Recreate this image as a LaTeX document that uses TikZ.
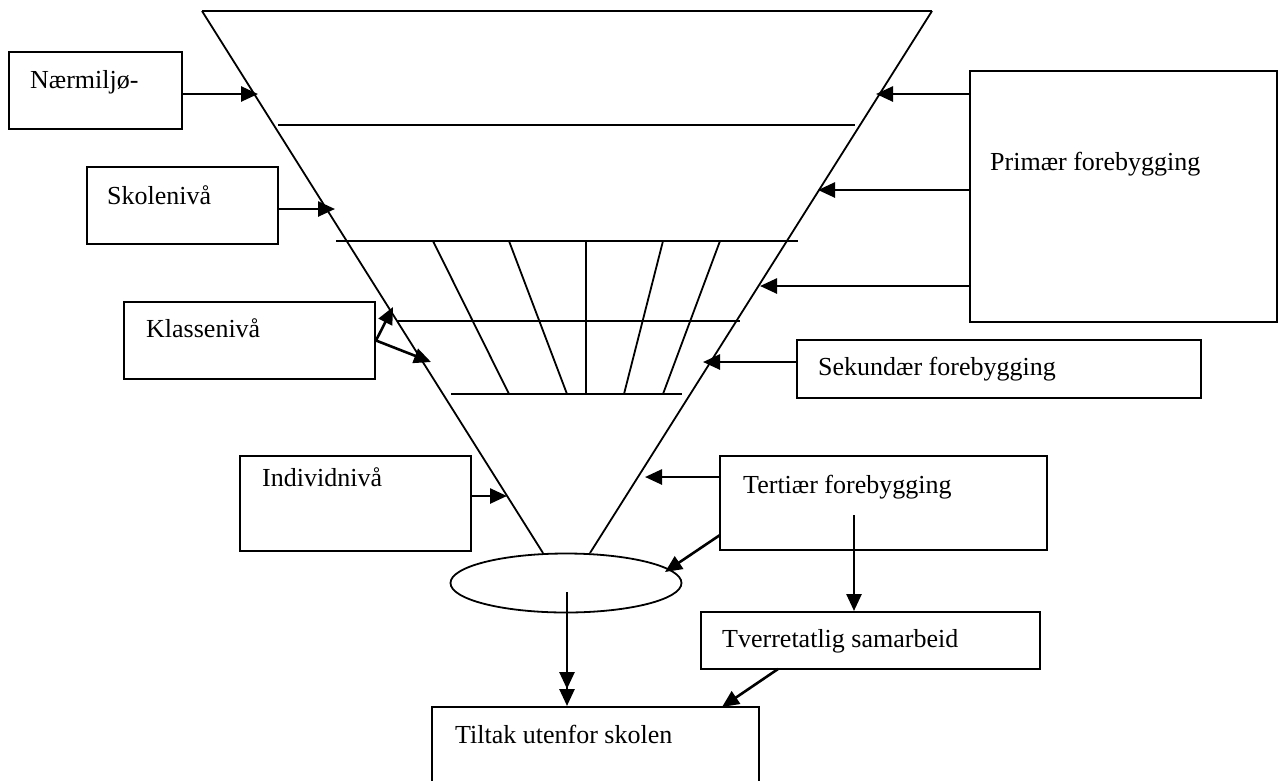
\documentclass[tikz,border=0pt]{standalone}
\usepackage{fontspec}
\setmainfont{Liberation Serif}
\usetikzlibrary{arrows.meta,shapes.geometric}
\begin{document}
\begin{tikzpicture}[x=1pt,y=-1pt,
  funnel/.style={line width=1.8pt},
  box/.style={draw,line width=2pt,rectangle,inner sep=0pt},
  txt/.style={anchor=base west,inner sep=0pt,font=\fontsize{26}{30}\selectfont},
  arr/.style={line width=2.6pt,-{Triangle[length=17pt,width=15pt]}},
  darr/.style={line width=2.6pt,-{Triangle[length=17pt,width=15pt]Triangle[length=17pt,width=15pt]}}]
\useasboundingbox (0,0) rectangle (1279,780);
% funnel
\coordinate (tl) at (202,11);
\coordinate (tr) at (932,11);
\coordinate (bl) at (543,553);
\coordinate (br) at (590,553);
\draw[funnel] (tl) -- (tr);
\draw[funnel] (tl) -- (bl);
\draw[funnel] (tr) -- (br);
\coordinate (h1a) at (278,125); \coordinate (h1b) at (855,125);
\coordinate (h2a) at (336,241); \coordinate (h2b) at (798,241);
\coordinate (h3a) at (397,321); \coordinate (h3b) at (740,321);
\coordinate (h4a) at (451,394); \coordinate (h4b) at (682,394);
\draw[funnel] (h1a) -- (h1b);
\draw[funnel] (h2a) -- (h2b);
\draw[funnel] (h3a) -- (h3b);
\draw[funnel] (h4a) -- (h4b);
\coordinate (r1a) at (433,241); \coordinate (r1b) at (509,394);
\coordinate (r2a) at (509,241); \coordinate (r2b) at (567,394);
\coordinate (r3a) at (586,241); \coordinate (r3b) at (586,394);
\coordinate (r4a) at (663,241); \coordinate (r4b) at (624,394);
\coordinate (r5a) at (720,241); \coordinate (r5b) at (663,394);
\draw[funnel] (r1a) -- (r1b);
\draw[funnel] (r2a) -- (r2b);
\draw[funnel] (r3a) -- (r3b);
\draw[funnel] (r4a) -- (r4b);
\draw[funnel] (r5a) -- (r5b);
% ellipse
\node[draw,ellipse,line width=1.8pt,minimum width=231pt,minimum height=59pt,inner sep=0pt] (ell) at (566,583) {};
% boxes
\node[box,minimum width=173pt,minimum height=77pt] (nm) at (95.5,90.5) {};
\node[txt] (nmt) at (30,88) {Nærmiljø-};
\node[box,minimum width=191pt,minimum height=77pt] (sk) at (182.5,205.5) {};
\node[txt] (skt) at (107,204) {Skolenivå};
\node[box,minimum width=251pt,minimum height=77pt] (kl) at (249.5,340.5) {};
\node[txt] (klt) at (146,337) {Klassenivå};
\node[box,minimum width=231pt,minimum height=95pt] (ind) at (355.5,503.5) {};
\node[txt] (indt) at (262,486) {Individnivå};
\node[box,minimum width=307pt,minimum height=251pt] (pri) at (1123.5,196.5) {};
\node[txt] (prit) at (990,170) {Primær forebygging};
\node[box,minimum width=404pt,minimum height=58pt] (sek) at (999,369) {};
\node[txt] (sekt) at (818,375) {Sekundær forebygging};
\node[box,minimum width=327pt,minimum height=94pt] (ter) at (883.5,503) {};
\node[txt] (tert) at (743,493) {Tertiær forebygging};
\node[box,minimum width=339pt,minimum height=57pt] (tve) at (870.5,640.5) {};
\node[txt] (tvet) at (722,647) {Tverretatlig samarbeid};
\node[box,minimum width=327pt,minimum height=80pt] (til) at (595.5,747) {};
\node[txt] (tilt) at (455,743) {Tiltak utenfor skolen};
% arrow targets
\coordinate (a1) at (258,94);
\coordinate (a2) at (335,209);
\coordinate (a3) at (393,307);
\coordinate (a4) at (431,362);
\coordinate (a5) at (507,496);
\coordinate (b1) at (876,94);
\coordinate (b2) at (818,190);
\coordinate (b3) at (760,286);
\coordinate (b4) at (703,362);
\coordinate (b5) at (645,477);
\coordinate (b6) at (665,572);
\coordinate (c1) at (567,592);
\coordinate (c2) at (854,515);
\coordinate (c3) at (720,535);
\coordinate (c4) at (778,669);
\coordinate (d1) at (722,707);
% arrows
\draw[arr] (nm.east |- a1) -- (a1);
\draw[arr] (sk.east |- a2) -- (a2);
\draw[arr] (kl.east) -- (a3);
\draw[arr] (kl.east) -- (a4);
\draw[arr] (ind.east |- a5) -- (a5);
\draw[arr] (pri.west |- b1) -- (b1);
\draw[arr] (pri.west |- b2) -- (b2);
\draw[arr] (pri.west |- b3) -- (b3);
\draw[arr] (sek.west |- b4) -- (b4);
\draw[arr] (ter.west |- b5) -- (b5);
\draw[arr] (c3) -- (b6);
\draw[arr] (c2) -- (c2 |- tve.north);
\draw[darr] (c1) -- (c1 |- til.north);
\draw[arr] (c4) -- (d1);
\end{tikzpicture}
\end{document}
